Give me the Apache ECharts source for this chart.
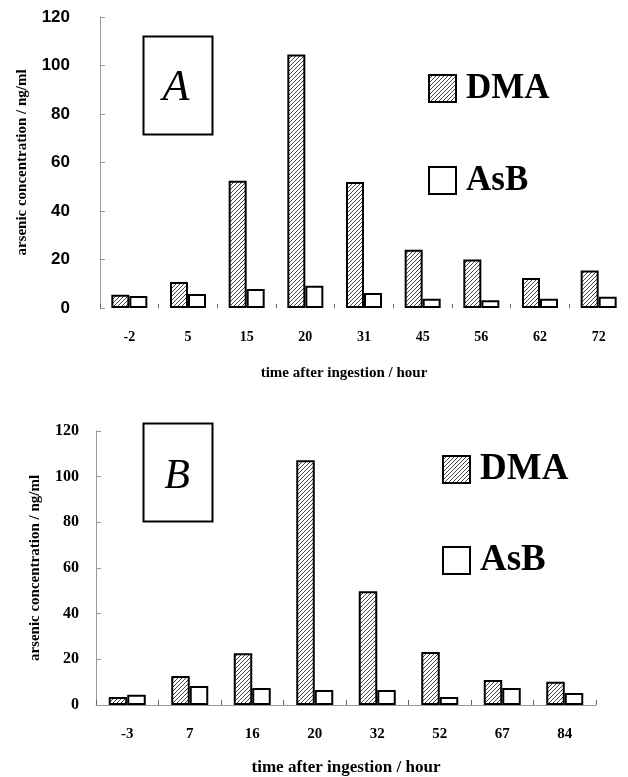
<!DOCTYPE html>
<html><head><meta charset="utf-8">
<script src="https://cdn.jsdelivr.net/npm/echarts@6/dist/echarts.min.js"></script>
<style>html,body{margin:0;padding:0;background:#fff}#c{width:628px;height:777px}</style>
</head><body><div id="c"></div>
<script>
var categoriesA = ['-2','5','15','20','31','45','56','62','72'];
var dmaA = [5.5, 10.7, 52.5, 104.5, 52, 24, 20, 12.4, 15.5];
var asbA = [5, 5.8, 7.8, 9.2, 6.2, 3.8, 3.2, 3.8, 4.6];
var categoriesB = ['-3','7','16','20','32','52','67','84'];
var dmaB = [3.5, 12.7, 22.7, 107.2, 49.8, 23.2, 11, 10.2];
var asbB = [4.5, 8.3, 7.5, 6.6, 6.6, 3.5, 7.5, 5.3];
var yTicks = [0, 20, 40, 60, 80, 100, 120];

function hatch() {
  var c = document.createElement('canvas');
  c.width = 4; c.height = 4;
  var g = c.getContext('2d');
  g.fillStyle = '#fff'; g.fillRect(0, 0, 4, 4);
  g.strokeStyle = '#444'; g.lineWidth = 1;
  g.beginPath();
  g.moveTo(-1, 5); g.lineTo(5, -1);
  g.moveTo(-1, 1); g.lineTo(1, -1);
  g.moveTo(3, 5); g.lineTo(5, 3);
  g.stroke();
  return c;
}
var pat = {image: hatch(), repeat: 'repeat'};
var serif = '"Liberation Serif", "Times New Roman", serif';
var sans = '"Liberation Sans", Arial, sans-serif';

var chart = echarts.init(document.getElementById('c'), null, {renderer: 'canvas'});
function legendItem(name, top, left, size) {
  return {
    data: [name], orient: 'vertical', left: left, top: top, padding: 0, icon: 'rect',
    itemWidth: 27, itemHeight: 27, itemGap: 0, selectedMode: false,
    textStyle: {fontFamily: serif, fontWeight: 'bold', fontSize: size, color: '#000', lineHeight: size, padding: [0, 0, 0, 5]}
  };
}
var option = {
  animation: false,
  backgroundColor: '#fff',
  grid: [
    {left: 100, top: 17, width: 538, height: 291},
    {left: 96, top: 431, width: 500, height: 274}
  ],
  legend: [
    legendItem('DMA', 71, 428, 35),
    legendItem('AsB', 163, 428, 35),
    legendItem('DMA', 451, 442, 37),
    legendItem('AsB', 542, 442, 37)
  ],
  xAxis: [
    {type: 'category', gridIndex: 0, data: categoriesA,
     axisLine: {show: false},
     axisTick: {show: true, inside: true, length: 4, lineStyle: {color: '#666'}},
     axisLabel: {interval: 0, margin: 22, fontFamily: serif, fontWeight: 'bold', fontSize: 14, color: '#000'},
     name: 'time after ingestion / hour', nameLocation: 'middle', nameGap: 58,
     nameTextStyle: {fontFamily: serif, fontWeight: 'bold', fontSize: 15, color: '#000', padding: [0, 40, 0, 0]}},
    {type: 'category', gridIndex: 1, data: categoriesB,
     axisLine: {show: true, lineStyle: {color: '#999', width: 1}},
     axisTick: {show: true, inside: true, length: 5, lineStyle: {color: '#666'}},
     axisLabel: {interval: 0, margin: 22, fontFamily: serif, fontWeight: 'bold', fontSize: 15, color: '#000'},
     name: 'time after ingestion / hour',
     nameLocation: 'middle', nameGap: 54,
     nameTextStyle: {fontFamily: serif, fontWeight: 'bold', fontSize: 17, color: '#000'}}
  ],
  yAxis: [
    {type: 'value', gridIndex: 0, min: 0, max: 120, interval: 20,
     splitLine: {show: false},
     axisLine: {show: true, lineStyle: {color: '#999', width: 1}},
     axisTick: {show: true, inside: true, length: 5, lineStyle: {color: '#999'}},
     axisLabel: {margin: 30, fontFamily: sans, fontWeight: 'bold', fontSize: 17, color: '#000',
       formatter: function (v) { return yTicks.indexOf(v) >= 0 ? String(v) : ''; }},
     name: 'arsenic concentration / ng/ml', nameLocation: 'middle', nameGap: 70,
     nameTextStyle: {fontFamily: serif, fontWeight: 'bold', fontSize: 15, color: '#000'}},
    {type: 'value', gridIndex: 1, min: 0, max: 120, interval: 20,
     splitLine: {show: false},
     axisLine: {show: true, lineStyle: {color: '#999', width: 1}},
     axisTick: {show: true, inside: true, length: 5, lineStyle: {color: '#999'}},
     axisLabel: {margin: 17, fontFamily: serif, fontWeight: 'bold', fontSize: 16, color: '#000',
       formatter: function (v) { return yTicks.indexOf(v) >= 0 ? String(v) : ''; }},
     name: 'arsenic concentration / ng/ml', nameLocation: 'middle', nameGap: 53,
     nameTextStyle: {fontFamily: serif, fontWeight: 'bold', fontSize: 15, color: '#000'}}
  ],
  series: [
    {name: 'DMA', type: 'bar', xAxisIndex: 0, yAxisIndex: 0, data: dmaA, barWidth: 18, barGap: '0%',
     itemStyle: {color: pat, borderColor: '#000', borderWidth: 2}},
    {name: 'AsB', type: 'bar', xAxisIndex: 0, yAxisIndex: 0, data: asbA, barWidth: 18, barGap: '0%',
     itemStyle: {color: '#fff', borderColor: '#000', borderWidth: 2}},
    {name: 'DMA', type: 'bar', xAxisIndex: 1, yAxisIndex: 1, data: dmaB, barWidth: 18.5, barGap: '0%',
     itemStyle: {color: pat, borderColor: '#000', borderWidth: 2}},
    {name: 'AsB', type: 'bar', xAxisIndex: 1, yAxisIndex: 1, data: asbB, barWidth: 18.5, barGap: '0%',
     itemStyle: {color: '#fff', borderColor: '#000', borderWidth: 2}}
  ],
  graphic: [
    {type: 'rect', shape: {x: 143.5, y: 36.5, width: 69, height: 98}, style: {fill: '#fff', stroke: '#000', lineWidth: 2}},
    {type: 'text', x: 176, y: 88, style: {text: 'A', font: 'italic 44px ' + serif, fill: '#000', textAlign: 'center', textVerticalAlign: 'middle'}},
    {type: 'rect', shape: {x: 143.5, y: 423.5, width: 69, height: 98}, style: {fill: '#fff', stroke: '#000', lineWidth: 2}},
    {type: 'text', x: 177, y: 477, style: {text: 'B', font: 'italic 42px ' + serif, fill: '#000', textAlign: 'center', textVerticalAlign: 'middle'}}
  ]
};
chart.setOption(option);
</script></body></html>
